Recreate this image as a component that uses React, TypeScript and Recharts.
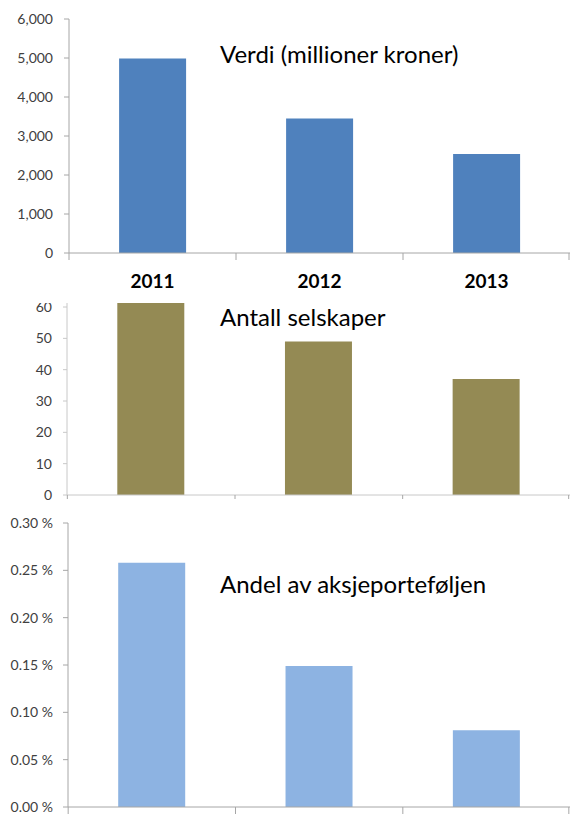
import React from "react";
import { BarChart, Bar, XAxis, YAxis } from "recharts";

const years = ["2011", "2012", "2013"];
const verdi = [4990, 3450, 2540];
const antall = [62, 49, 37];
const andel = [0.258, 0.149, 0.081];

const verdiTicks = [0, 1000, 2000, 3000, 4000, 5000, 6000];
const antallTicks = [0, 10, 20, 30, 40, 50, 60];
const andelTicks = [0, 0.05, 0.1, 0.15, 0.2, 0.25, 0.3];

const titles = ["Verdi (millioner kroner)", "Antall selskaper", "Andel av aksjeporteføljen"];

const FONT = "Lato, 'Open Sans', sans-serif";
const BAND = 167;

const verdiData = years.map((y, i) => ({ year: y, value: verdi[i] }));
const antallData = years.map((y, i) => ({ year: y, value: antall[i] }));
const andelData = years.map((y, i) => ({ year: y, value: andel[i] }));

// Excel style: tick marks sit between categories, optional bold label under the centre
const CategoryTick = (props: any) => {
  const { x, y, payload, index, showLabel, stroke, len } = props;
  return (
    <g>
      <line x1={x - BAND / 2} x2={x - BAND / 2} y1={y} y2={y + len} stroke={stroke} />
      {index === years.length - 1 && (
        <line x1={x + BAND / 2 - 1} x2={x + BAND / 2 - 1} y1={y} y2={y + len} stroke={stroke} />
      )}
      {showLabel && (
        <text
          x={x}
          y={y + 35}
          textAnchor="middle"
          fontFamily={FONT}
          fontSize={19}
          fontWeight="bold"
          fill="#000"
        >
          {payload.value}
        </text>
      )}
    </g>
  );
};

const tickStyle = { fontSize: 14, fill: "#404040", fontFamily: FONT };

export default function App() {
  return (
    <div style={{ position: "absolute", left: 0, top: 0, width: 570, height: 814, background: "#fff" }}>
      <div style={{ position: "absolute", left: 0, top: 0 }}>
        <BarChart
          width={570}
          height={300}
          data={verdiData}
          margin={{ top: 19, right: 0, bottom: 0, left: 0 }}
          barCategoryGap="30%"
        >
          <XAxis
            dataKey="year"
            height={47}
            tickSize={0}
            tickMargin={0}
            tickLine={false}
            stroke="#A6A6A6"
            interval={0}
            tick={<CategoryTick showLabel stroke="#A6A6A6" len={7} />}
          />
          <YAxis
            width={69}
            domain={[0, 6000]}
            ticks={verdiTicks}
            interval={0}
            tickSize={5}
            tickMargin={11}
            stroke="#A6A6A6"
            tick={tickStyle}
            tickFormatter={(v: number) => v.toLocaleString("en-US")}
          />
          <Bar dataKey="value" fill="#4F81BD" isAnimationActive={false} />
        </BarChart>
      </div>

      <div style={{ position: "absolute", left: 0, top: 303, width: 570, height: 202, overflow: "hidden" }}>
        <BarChart
          width={570}
          height={202}
          data={antallData}
          margin={{ top: -1, right: 0, bottom: 0, left: 0 }}
          barCategoryGap="30%"
        >
          <XAxis
            dataKey="year"
            height={10}
            tickSize={0}
            tickMargin={0}
            tickLine={false}
            stroke="#C8C8C8"
            interval={0}
            tick={<CategoryTick stroke="#A6A6A6" len={4} />}
          />
          <YAxis
            width={67}
            domain={[0, 61.6]}
            allowDataOverflow
            ticks={antallTicks}
            interval={0}
            tickSize={4}
            tickMargin={11}
            stroke="#C8C8C8"
            tick={tickStyle}
          />
          <Bar dataKey="value" fill="#948A54" isAnimationActive={false} />
        </BarChart>
      </div>

      <div style={{ position: "absolute", left: 0, top: 505 }}>
        <BarChart
          width={570}
          height={309}
          data={andelData}
          margin={{ top: 18, right: 0, bottom: 0, left: 0 }}
          barCategoryGap="30%"
        >
          <XAxis
            dataKey="year"
            height={7}
            tickSize={0}
            tickMargin={0}
            tickLine={false}
            stroke="#A6A6A6"
            interval={0}
            tick={<CategoryTick stroke="#A6A6A6" len={7} />}
          />
          <YAxis
            width={68}
            domain={[0, 0.3]}
            ticks={andelTicks}
            interval={0}
            tickSize={5}
            tickMargin={10}
            stroke="#A6A6A6"
            tick={tickStyle}
            tickFormatter={(v: number) => v.toFixed(2) + " %"}
          />
          <Bar dataKey="value" fill="#8DB3E2" isAnimationActive={false} />
        </BarChart>
      </div>

      <svg width={570} height={814} style={{ position: "absolute", left: 0, top: 0, pointerEvents: "none" }}>
        <text x={220} y={63} fontFamily={FONT} fontSize={24} fill="#000">{titles[0]}</text>
        <text x={220} y={326} fontFamily={FONT} fontSize={24} fill="#000">{titles[1]}</text>
        <text x={220} y={593} fontFamily={FONT} fontSize={24} fill="#000">{titles[2]}</text>
      </svg>
    </div>
  );
}
